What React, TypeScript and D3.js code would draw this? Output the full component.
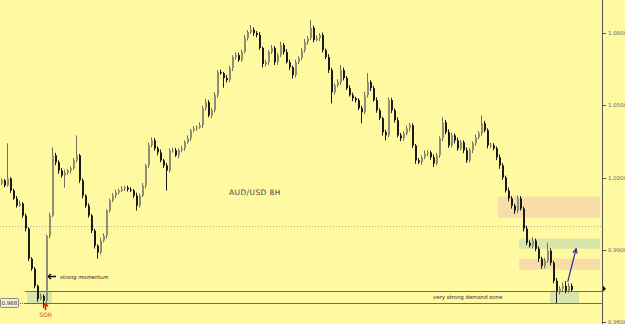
import React from "react";
import * as d3 from "d3";

const W = 625;
const H = 324;

// AUD/USD 8H closes (one per candle, oldest first)
const closes = [
  1.0188, 1.0167, 1.0196, 1.0146, 1.0113, 1.0083, 1.0092, 1.0042, 0.9988, 0.9863,
  0.9821, 0.975, 0.9696, 0.9708, 0.9688, 0.9958, 1.0042, 1.0292, 1.0263, 1.0229,
  1.0208, 1.0221, 1.0229, 1.0238, 1.0271, 1.0292, 1.0188, 1.0125, 1.0083, 1.0042,
  0.9979, 0.9917, 0.9888, 0.9938, 0.9958, 1.0063, 1.0104, 1.0125, 1.0138, 1.0146,
  1.0154, 1.0158, 1.015, 1.0146, 1.0125, 1.0083, 1.0125, 1.0167, 1.025, 1.0333,
  1.0354, 1.0321, 1.0304, 1.0271, 1.025, 1.0229, 1.0313, 1.0313, 1.0292, 1.0313,
  1.0321, 1.0346, 1.0363, 1.0396, 1.0404, 1.0408, 1.0417, 1.0488, 1.0513, 1.0458,
  1.0479, 1.0542, 1.0638, 1.0633, 1.0613, 1.0604, 1.0654, 1.07, 1.0708, 1.0688,
  1.0721, 1.0779, 1.0804, 1.0813, 1.08, 1.0792, 1.0738, 1.0671, 1.0679, 1.0721,
  1.0738, 1.0679, 1.0708, 1.075, 1.0721, 1.0679, 1.0658, 1.0625, 1.0679, 1.0696,
  1.0729, 1.0763, 1.0779, 1.0821, 1.0771, 1.0779, 1.0792, 1.0729, 1.07, 1.0646,
  1.0554, 1.0583, 1.0596, 1.0646, 1.0613, 1.0571, 1.0542, 1.0529, 1.0521, 1.0488,
  1.0471, 1.0542, 1.0596, 1.0571, 1.0521, 1.0479, 1.0446, 1.0388, 1.0375, 1.0521,
  1.0479, 1.0438, 1.0375, 1.0363, 1.0383, 1.0404, 1.0417, 1.0333, 1.0271, 1.0263,
  1.0284, 1.03, 1.0304, 1.0284, 1.0258, 1.0292, 1.0363, 1.0429, 1.0388, 1.0333,
  1.0375, 1.0354, 1.0321, 1.0346, 1.0313, 1.0271, 1.0313, 1.0342, 1.0367, 1.0383,
  1.0425, 1.0396, 1.0333, 1.0333, 1.0321, 1.0284, 1.025, 1.02, 1.0146, 1.0113,
  1.0083, 1.0063, 1.0113, 1.0071, 0.9988, 0.9929, 0.9917, 0.9938, 0.9904, 0.9863,
  0.9833, 0.9854, 0.9896, 0.9846, 0.9771, 0.9729, 0.9738, 0.975, 0.9729, 0.975,
  0.9733,
];
const firstOpen = 1.0175;

// wick lengths in pips (0.0001)
const upperWickPips = [
  8, 6, 146, 5, 7, 10, 12, 6, 8, 5,
  6, 8, 5, 10, 6, 5, 12, 33, 10, 8,
  10, 12, 6, 8, 10, 83, 6, 8, 5, 10,
  6, 8, 5, 12, 10, 6, 8, 10, 12, 8,
  10, 6, 8, 10, 6, 12, 8, 10, 6, 12,
  13, 10, 8, 12, 6, 10, 8, 12, 10, 8,
  10, 8, 12, 6, 10, 8, 12, 10, 14, 8,
  10, 12, 8, 10, 6, 12, 10, 8, 12, 10,
  10, 12, 8, 20, 10, 8, 12, 6, 10, 8,
  12, 8, 10, 14, 8, 12, 10, 6, 10, 8,
  10, 12, 8, 33, 10, 12, 8, 10, 6, 12,
  10, 8, 12, 21, 10, 8, 12, 10, 6, 8,
  10, 14, 37, 8, 10, 12, 8, 6, 10, 12,
  10, 8, 12, 10, 8, 12, 10, 8, 6, 10,
  8, 12, 10, 8, 12, 10, 8, 21, 10, 12,
  10, 8, 12, 10, 8, 12, 10, 8, 12, 10,
  33, 10, 8, 12, 10, 8, 12, 10, 8, 12,
  10, 8, 12, 10, 8, 12, 10, 14, 8, 10,
  8, 12, 33, 10, 8, 12, 10, 14, 20, 12, 10,
];
const lowerWickPips = [
  6, 8, 5, 10, 6, 8, 5, 9, 12, 10,
  8, 10, 12, 6, 30, 8, 10, 6, 12, 14,
  8, 50, 10, 12, 6, 8, 10, 12, 9, 8,
  10, 12, 25, 8, 6, 12, 8, 6, 10, 8,
  6, 10, 8, 6, 10, 20, 8, 6, 12, 10,
  8, 10, 12, 8, 10, 83, 8, 10, 6, 12,
  8, 10, 6, 12, 8, 10, 6, 12, 10, 8,
  12, 8, 10, 6, 40, 10, 8, 12, 10, 8,
  8, 6, 10, 8, 12, 10, 8, 14, 10, 12,
  8, 12, 10, 8, 10, 6, 12, 14, 10, 8,
  8, 10, 12, 8, 10, 6, 12, 10, 8, 12,
  46, 10, 8, 12, 10, 8, 6, 12, 10, 8,
  46, 8, 10, 12, 6, 10, 8, 14, 21, 8,
  12, 10, 8, 12, 10, 8, 12, 10, 14, 8,
  10, 8, 12, 10, 14, 8, 10, 12, 8, 10,
  8, 12, 10, 8, 12, 10, 8, 12, 10, 8,
  10, 8, 12, 10, 8, 12, 14, 10, 8, 12,
  12, 14, 10, 8, 12, 10, 8, 12, 10, 14,
  12, 10, 8, 12, 10, 50, 14, 12, 10, 8, 6,
];

const axisTicks = [0.96, 0.99, 1.02, 1.05, 1.08];
const tickLabels = ["0.96000", "0.99000", "1.02000", "1.05000", "1.08000"];
const parityLevel = 1.0;
const demandLevels = [0.9729, 0.9679];
const currentPrice = 0.9738;
const leftLabel = "0.96875";

// zones: [startIndex, endIndex, topPrice, bottomPrice, kind]
const zoneStart = [165.7, 172.7, 172.7, 183, 8.7];
const zoneEnd = [199.7, 199.7, 199.7, 192.7, 17];
const zoneTop = [1.0121, 0.9946, 0.9863, 0.9729, 0.9729];
const zoneBottom = [1.0033, 0.9904, 0.9817, 0.9679, 0.9679];
const zoneKind = ["supply", "demand", "supply", "demand", "demand"];

const arrowFrom = { i: 188.9, p: 0.9767 };
const arrowTo = { i: 191.7, p: 0.9904 };

export default function App() {
  const x = d3.scaleLinear().domain([0, 190]).range([1, 571]);
  const y = d3.scaleLinear().domain([0.96, 1.08]).range([322, 33]);

  const candles = closes.map((c, i) => {
    const o = i === 0 ? firstOpen : closes[i - 1];
    const hi = Math.max(o, c) + upperWickPips[i] * 0.0001;
    const lo = Math.min(o, c) - lowerWickPips[i] * 0.0001;
    return { o, c, hi, lo, i };
  });

  const axisX = 602;
  const bg = "#FFF9A1";
  const peach = "#F9DDA8";
  const green = "#D8E7A9";

  const ax1 = x(arrowFrom.i), ay1 = y(arrowFrom.p);
  const ax2 = x(arrowTo.i), ay2 = y(arrowTo.p);
  const ang = Math.atan2(ay2 - ay1, ax2 - ax1);
  const ah = 5;
  const headPts = [
    [ax2 - ah * Math.cos(ang - 0.45), ay2 - ah * Math.sin(ang - 0.45)],
    [ax2, ay2],
    [ax2 - ah * Math.cos(ang + 0.45), ay2 - ah * Math.sin(ang + 0.45)],
  ];
  const lblY = y(demandLevels[1]);

  return (
    <svg
      width={W}
      height={H}
      style={{ position: "absolute", left: 0, top: 0, display: "block" }}
      fontFamily="'DejaVu Sans', sans-serif"
    >
      <defs>
        <clipPath id="lblclip">
          <rect x={0} y={lblY - 5} width={18} height={10} />
        </clipPath>
      </defs>
      <rect x={0} y={0} width={W} height={H} fill={bg} />

      {/* zones */}
      {zoneStart.map((s, k) => (
        <rect
          key={"z" + k}
          x={x(s)}
          y={y(zoneTop[k])}
          width={x(zoneEnd[k]) - x(s)}
          height={y(zoneBottom[k]) - y(zoneTop[k])}
          fill={zoneKind[k] === "supply" ? peach : green}
        />
      ))}

      {/* parity dotted line */}
      <line
        x1={0}
        x2={axisX}
        y1={Math.round(y(parityLevel)) + 0.5}
        y2={Math.round(y(parityLevel)) + 0.5}
        stroke="#b0ab80"
        strokeWidth={1}
        strokeDasharray="1,2"
      />

      {/* demand lines */}
      <line x1={25} x2={axisX} y1={Math.round(y(demandLevels[0])) + 0.5} y2={Math.round(y(demandLevels[0])) + 0.5} stroke="#6e6e66" strokeWidth={1} />
      <line x1={25} x2={axisX} y1={Math.round(y(demandLevels[1])) + 0.5} y2={Math.round(y(demandLevels[1])) + 0.5} stroke="#6e6e66" strokeWidth={1} />
      <line x1={18} x2={25} y1={Math.round(y(demandLevels[1])) + 0.5} y2={Math.round(y(demandLevels[1])) + 0.5} stroke="#6e6e66" strokeWidth={1} strokeDasharray="1,1" />

      {/* candles */}
      {candles.map((d) => {
        const cx = Math.round(x(d.i));
        const bull = d.c >= d.o;
        const top = Math.min(y(d.o), y(d.c));
        const bh = Math.max(1, Math.abs(y(d.o) - y(d.c)));
        return (
          <g key={"c" + d.i}>
            <line x1={cx + 0.5} x2={cx + 0.5} y1={y(d.hi)} y2={y(d.lo)} stroke={bull ? "#6f6f5c" : "#1a1a1a"} strokeWidth={1} />
            <rect x={cx} y={top} width={2} height={bh} fill={bull ? "#8f8f78" : "#1a1a1a"} />
          </g>
        );
      })}

      {/* blue arrow */}
      <line x1={ax1} y1={ay1} x2={ax2} y2={ay2} stroke="#2a2a9a" strokeWidth={1.2} />
      <polyline points={headPts.map((p) => p.join(",")).join(" ")} fill="none" stroke="#2a2a9a" strokeWidth={1.2} />

      {/* axis */}
      <line x1={axisX + 0.5} x2={axisX + 0.5} y1={0} y2={H} stroke="#555" strokeWidth={1} />
      {axisTicks.map((t, k) => (
        <g key={"t" + k}>
          <line x1={axisX} x2={axisX + 4} y1={Math.round(y(t)) + 0.5} y2={Math.round(y(t)) + 0.5} stroke="#555" />
          <text x={axisX + 6} y={y(t) + 2} fontSize={5.5} fill="#666">
            {tickLabels[k]}
          </text>
        </g>
      ))}
      <path
        d={`M${axisX + 1},${y(currentPrice) - 3} L${axisX + 4},${y(currentPrice)} L${axisX + 1},${y(currentPrice) + 3} Z`}
        fill="#111"
      />

      {/* left price label */}
      <rect x={0.5} y={lblY - 4.5} width={18} height={9} fill="#f2f0d2" stroke="#888" strokeWidth={1} rx={1} />
      <text x={1.5} y={lblY + 2} fontSize={5.5} fill="#333" clipPath="url(#lblclip)">
        {leftLabel}
      </text>

      {/* annotations */}
      <text x={229} y={195} fontSize={7.5} fill="#444" letterSpacing={0.4}>
        AUD/USD 8H
      </text>
      <path d="M48,276.5 L56,276.5 M48,276.5 L51,274 M48,276.5 L51,279" stroke="#111" strokeWidth={1.3} fill="none" />
      <text x={60} y={278.5} fontSize={5.2} fontStyle="italic" fill="#222">
        strong momentum
      </text>
      <text x={433} y={299} fontSize={5.4} fill="#333">
        very strong demand zone
      </text>
      <path d="M45.5,304 L45.5,310 M43,306.5 L45.5,303.5 L48,306.5" stroke="#d42a10" strokeWidth={1.6} fill="none" />
      <text x={45.5} y={317} fontSize={6} fill="#d04020" textAnchor="middle">
        SOR
      </text>
    </svg>
  );
}
